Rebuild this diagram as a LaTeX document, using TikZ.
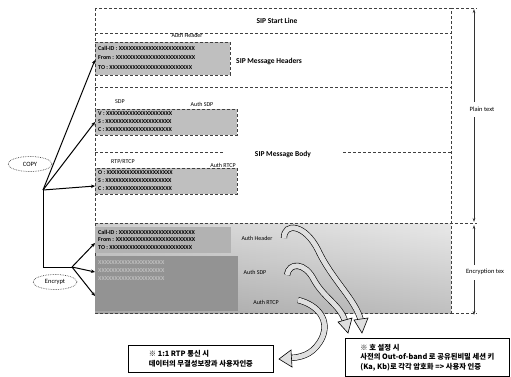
\documentclass[tikz,border=0pt]{standalone}
\usepackage{fontspec}
\setmainfont{Carlito}
\newfontfamily\kr{Noto Sans CJK KR}
\usetikzlibrary{arrows.meta,shapes.geometric}
\begin{document}
\begin{tikzpicture}[x=1pt,y=-1pt,
  frame/.style={densely dashed, line width=0.5pt, gray!50!black},
  fieldbox/.style={draw=gray!50!black, densely dashed, line width=0.4pt, fill=gray!50, anchor=north west, inner sep=0pt},
  rowtxt/.style={font=\bfseries\fontsize{6}{6}\selectfont, anchor=west, inner sep=0pt},
  lbl/.style={font=\fontsize{6}{6}\selectfont, inner sep=0pt},
  title/.style={font=\bfseries\fontsize{7.5}{8}\selectfont, inner sep=1pt},
  conn/.style={line width=1pt, -{Stealth[length=4pt,width=3.5pt]}},
  trunk/.style={line width=1pt},
  oval/.style={ellipse, draw=gray!60!black, densely dotted, line width=0.7pt, minimum width=44pt, minimum height=15pt, inner sep=0pt, font=\fontsize{6.5}{6.5}\selectfont},
  callout/.style={draw, line width=0.8pt, align=left, inner sep=2pt, anchor=north west, font=\kr\bfseries\fontsize{7.3}{9.5}\selectfont},
  fat/.style={double=gray!25, double distance=5pt, line width=0.6pt},
  fathead/.style={fill=gray!25, draw=black, line width=0.6pt},
  dim/.style={line width=0.5pt, gray!40!black}
]
\useasboundingbox (0,0) rectangle (511,376);

% encrypted region
\shade[top color=gray!15, bottom color=gray!80] (95,223) rectangle (451,313);
\shade[left color=gray!60, right color=gray!20, opacity=0.5] (95,223) rectangle (451,313);

% main frame
\draw[frame] (95,8) rectangle (451,313);
\draw[frame] (451,8) -- (477,8);
\draw[frame] (95,33) -- (451,33);
\draw[frame] (95,87) -- (451,87);
\draw[frame] (95,152) -- (223,152);
\draw[frame] (343,152) -- (451,152);
\draw[frame] (95,223) -- (477,223);
\draw[frame] (451,313) -- (477,313);

\node[title] (start) at (277,21) {SIP Start Line};
\node[title, anchor=west] (mhdr) at (235,61) {SIP Message Headers};
\node[title] (mbody) at (283,154) {SIP Message Body};

% headers box
\node[lbl] (authh) at (187,35) {Auth Header};
\node[fieldbox, minimum width=135pt, minimum height=33pt] (hdr) at (95,42) {};
\node[rowtxt] at (98,48) {Call-ID : XXXXXXXXXXXXXXXXXXXXXXX};
\node[rowtxt] at (98,58) {From : XXXXXXXXXXXXXXXXXXXXXXXX};
\node[rowtxt] at (98,68) {TO : XXXXXXXXXXXXXXXXXXXXXXXXX};

% SDP box
\node[lbl] (sdpl) at (120,102) {SDP};
\node[lbl] (authsdp) at (202,104) {Auth SDP};
\node[fieldbox, minimum width=142pt, minimum height=26pt] (sdp) at (95,109) {};
\node[rowtxt] at (98,114) {V : XXXXXXXXXXXXXXXXXXXX};
\node[rowtxt] at (98,122) {S : XXXXXXXXXXXXXXXXXXXX};
\node[rowtxt] at (98,130) {C : XXXXXXXXXXXXXXXXXXXX};

% RTP box
\node[lbl] (rtpl) at (123,162) {RTP/RTCP};
\node[lbl] (authrtcp) at (223,165) {Auth RTCP};
\node[fieldbox, minimum width=142pt, minimum height=26pt] (rtp) at (95,168) {};
\node[rowtxt] at (98,173) {O : XXXXXXXXXXXXXXXXXXXX};
\node[rowtxt] at (98,181) {S : XXXXXXXXXXXXXXXXXXXX};
\node[rowtxt] at (98,189) {C : XXXXXXXXXXXXXXXXXXXX};

% encrypted boxes
\node[fieldbox, draw=none, fill=gray!60, minimum width=136pt, minimum height=26pt] (ehdr) at (95,227) {};
\node[rowtxt] at (98,232) {Call-ID : XXXXXXXXXXXXXXXXXXXXXXX};
\node[rowtxt] at (98,240) {From : XXXXXXXXXXXXXXXXXXXXXXXX};
\node[rowtxt] at (98,248) {TO : XXXXXXXXXXXXXXXXXXXXXXXXX};
\node[lbl] (eauthh) at (257,238) {Auth Header};
\node[fieldbox, draw=none, fill=gray!85, minimum width=143pt, minimum height=55pt] (ebody) at (95,256) {};
\node[rowtxt, text=gray!50] at (98,263) {XXXXXXXXXXXXXXXXXXXX};
\node[rowtxt, text=gray!50] at (98,271) {XXXXXXXXXXXXXXXXXXXX};
\node[rowtxt, text=gray!50] at (98,279) {XXXXXXXXXXXXXXXXXXXX};
\node[lbl] (eauthsdp) at (255,272) {Auth SDP};
\node[lbl] (eauthrtcp) at (266,302) {Auth RTCP};

% right-hand dimension labels
\node[lbl, font=\fontsize{6.5}{6.5}\selectfont] (plain) at (482,109) {Plain text};
\node[lbl, font=\fontsize{6.5}{6.5}\selectfont] (enc) at (485,272) {Encryption tex};
\coordinate (ptop) at (474,9);
\coordinate (pbot) at (474,222);
\coordinate (etop) at (474,225);
\coordinate (ebot) at (474,315);
\draw[dim, -{Stealth[length=4pt,width=2.5pt]}] (474,102) -- (ptop);
\draw[dim, -{Stealth[length=4pt,width=2.5pt]}] (474,117) -- (pbot);
\draw[dim, -{Stealth[length=4pt,width=2.5pt]}] (474,265) -- (etop);
\draw[dim, -{Stealth[length=4pt,width=2.5pt]}] (474,280) -- (ebot);

% copy / encrypt
\node[oval] (copy) at (30,164) {COPY};
\node[oval] (encrypt) at (55,282) {Encrypt};
\coordinate (cp) at (43,190);
\coordinate (corner) at (43,267);
\coordinate (ep) at (72,267);
\draw[conn] (cp) -- (95,60);
\draw[conn] (cp) -- (95,122);
\draw[conn] (cp) -- (95,186);
\draw[trunk] (cp) -- (corner) -- (ep);
\draw[conn] (ep) -- (95,243);
\draw[conn] (ep) -- (95,272);
\draw[conn] (ep) -- (95,296);

% callouts
\node[callout, minimum width=145pt, minimum height=27pt] (c1) at (128,345) {※ 1:1 RTP 통신 시\\데이터의 무결성보장과 사용자인증};
\node[callout, minimum width=164pt, minimum height=38pt] (c2) at (345,338) {※ 호 설정 시\\사전의 Out-of-band 로 공유된비밀 세션 키\\(Ka, Kb)로 각각 암호화 => 사용자 인증};

% fat curved arrows
\draw[fat] (284,238) .. controls (284,222) and (305,224) .. (318,250) .. controls (332,280) and (356,300) .. (361,321);
\fill[fathead] (362,333) -- (354,320) -- (368,318) -- cycle;
\draw[fat] (287,275) .. controls (289,262) and (305,262) .. (314,280) .. controls (324,298) and (340,305) .. (345,321);
\fill[fathead] (348,333) -- (338,322) -- (352,318) -- cycle;
\draw[fat] (298,300) .. controls (318,305) and (330,320) .. (322,338) .. controls (315,352) and (305,357) .. (291,358);
\fill[fathead] (279,359) -- (291,350) -- (292,367) -- cycle;
\end{tikzpicture}
\end{document}
